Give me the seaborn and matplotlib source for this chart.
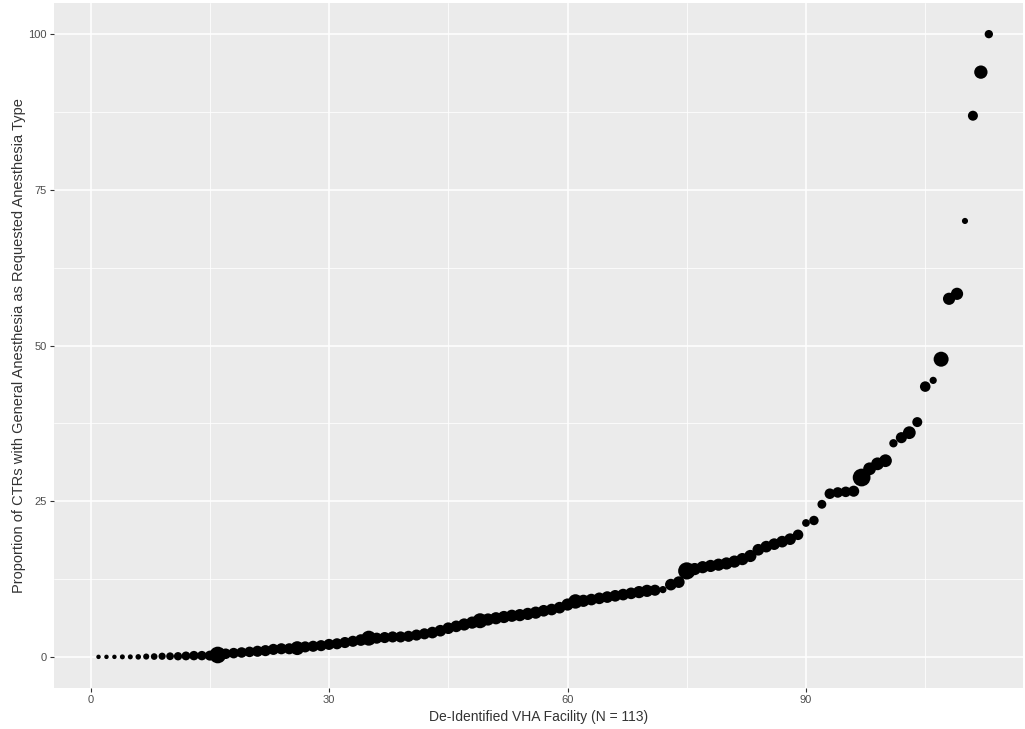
import matplotlib
matplotlib.use("Agg")
import matplotlib.pyplot as plt
import seaborn as sns
import numpy as np
import pandas as pd

# Facility index (sorted by proportion)
facility = list(range(1, 114))

# Proportion of CTRs with general anesthesia as requested anesthesia type (%)
proportion = [
    0.0, 0.0, 0.0, 0.0, 0.0, 0.0, 0.05, 0.05, 0.1, 0.1,
    0.1, 0.15, 0.2, 0.2, 0.2, 0.3, 0.5, 0.6, 0.7, 0.8,
    0.9, 1.0, 1.2, 1.3, 1.3, 1.4, 1.6, 1.7, 1.8, 2.0,
    2.1, 2.3, 2.5, 2.7, 3.0, 3.0, 3.1, 3.2, 3.2, 3.3,
    3.5, 3.7, 3.9, 4.2, 4.6, 4.9, 5.2, 5.5, 5.8, 6.0,
    6.2, 6.4, 6.6, 6.7, 6.9, 7.1, 7.4, 7.6, 7.9, 8.4,
    8.9, 9.0, 9.2, 9.4, 9.6, 9.8, 10.0, 10.2, 10.4, 10.6,
    10.7, 10.8, 11.6, 12.0, 13.8, 14.1, 14.4, 14.6, 14.8, 15.0,
    15.3, 15.7, 16.2, 17.2, 17.7, 18.1, 18.5, 18.9, 19.6, 21.5,
    21.9, 24.5, 26.2, 26.4, 26.5, 26.6, 28.8, 30.2, 31.0, 31.5,
    34.3, 35.2, 36.0, 37.7, 43.4, 44.4, 47.8, 57.5, 58.3, 70.0,
    86.9, 93.9, 100.0,
]

# Relative number of CTRs per facility (mapped to point size)
ctr_volume = [
    4, 4, 4, 4.5, 4.5, 5, 5.5, 6, 6.5, 7,
    7.5, 8, 8.5, 8.5, 9, 15, 9.5, 9.5, 9.5, 9.5,
    10, 10, 10, 10, 10, 12.5, 10, 10, 10, 10,
    10, 10, 10, 10.5, 13.5, 10, 10, 10, 10, 10,
    10, 10, 10.5, 10.5, 10.5, 10.5, 11, 11, 13.5, 11,
    11, 11, 11, 11, 11, 11, 10.5, 10.5, 10.5, 11,
    13, 11, 10.5, 10.5, 10.5, 10.5, 10.5, 10.5, 11, 11,
    10, 6.5, 10.5, 10.5, 15.5, 11, 11, 11, 11, 11,
    11, 11, 11, 10.5, 10.5, 10.5, 10.5, 10.5, 9.5, 7,
    8.5, 8, 9.5, 9.5, 9.5, 10, 16, 11.5, 11.5, 11.5,
    7.5, 10, 11.5, 9, 9.5, 6.5, 13.5, 11, 11, 5.5,
    9, 12, 7.5,
]

df = pd.DataFrame({"facility": facility, "proportion": proportion, "volume": ctr_volume})
# area in pt^2 from a diameter expressed roughly in pixels (dpi 100)
df["area"] = (df["volume"] * 0.80) ** 2

sns.set_theme(style="darkgrid")
plt.rcParams["font.family"] = ["Liberation Sans", "DejaVu Sans"]

fig = plt.figure(figsize=(10.25, 7.29), dpi=100)
ax = fig.add_axes([54 / 1025, 1 - 688 / 729, (1023 - 54) / 1025, (688 - 3) / 729])

ax.set_facecolor("#EBEBEB")
sns.scatterplot(data=df, x="facility", y="proportion", size="area",
                sizes=(float(df["area"].min()), float(df["area"].max())),
                color="black", edgecolor="none", linewidth=0, legend=False, ax=ax, zorder=3)

ax.set_xlim(-4.6, 117.3)
ax.set_ylim(-5, 105)
ax.set_xticks([0, 30, 60, 90])
ax.set_yticks([0, 25, 50, 75, 100])
ax.set_xticks([15, 45, 75, 105], minor=True)
ax.set_yticks([12.5, 37.5, 62.5, 87.5], minor=True)
ax.grid(which="major", color="white", linewidth=1.1)
ax.grid(which="minor", color="white", linewidth=0.55)
ax.set_axisbelow(True)
for s in ax.spines.values():
    s.set_visible(False)

ax.tick_params(axis="both", which="major", length=3, width=0.8, color="#333333",
               labelsize=8, labelcolor="#4D4D4D", pad=2, bottom=True, left=True)
ax.tick_params(axis="both", which="minor", length=0)

ax.set_xlabel("De-Identified VHA Facility (N = 113)", fontsize=10, color="#333333", labelpad=4)
ax.set_ylabel("Proportion of CTRs with General Anesthesia as Requested Anesthesia Type",
              fontsize=10.5, color="#333333", labelpad=2)

fig.savefig("out.png", dpi=100, facecolor="white")
